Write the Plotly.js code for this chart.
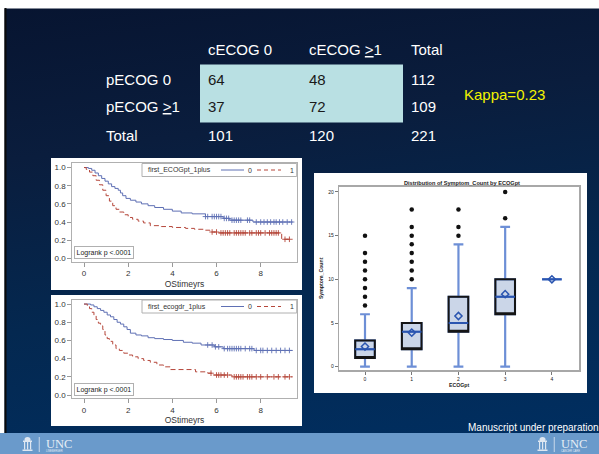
<!DOCTYPE html>
<html><head><meta charset="utf-8">
<script src="https://cdn.plot.ly/plotly-3.0.1.min.js"></script>
<style>
html,body{margin:0;padding:0;background:#fff;overflow:hidden;}
#chart{width:599px;height:454px;background:linear-gradient(172deg,#071430 0%,#0a1d3d 30%,#042850 62%,#002f62 100%);}
</style></head><body><div id="chart"></div>
<script>
// ---------- table data ----------
const colHeads = ['cECOG 0', 'cECOG <u>&gt;</u>1', 'Total'];
const rowHeads = ['pECOG 0', 'pECOG <u>&gt;</u>1', 'Total'];
const rowA = [64, 48, 112];
const rowB = [37, 72, 109];
const rowTotal = [101, 120, 221];
const kappaText = 'Kappa=0.23';

// ---------- KM panel 1 (first_ECOGpt_1plus) ----------
const km1Group = 'first_ECOGpt_1plus';
const km1T0 = [0, 0.2, 0.35, 0.5, 0.65, 0.8, 0.95, 1.1, 1.25, 1.4, 1.55, 1.65, 1.75, 1.9, 2.1, 2.35, 2.6, 2.9, 3.2, 3.6, 4.0, 4.4, 4.9, 5.5, 6.3, 6.6, 7.65, 9.45];
const km1S0 = [1.0, 0.99, 0.97, 0.94, 0.91, 0.88, 0.85, 0.82, 0.79, 0.77, 0.75, 0.72, 0.69, 0.66, 0.64, 0.62, 0.60, 0.58, 0.56, 0.54, 0.52, 0.50, 0.49, 0.46, 0.44, 0.42, 0.40, 0.40];
const km1T1 = [0, 0.1, 0.25, 0.4, 0.55, 0.7, 0.85, 1.0, 1.15, 1.3, 1.45, 1.6, 1.8, 2.0, 2.2, 2.45, 2.7, 3.0, 3.5, 4.0, 4.6, 5.0, 5.4, 5.7, 6.1, 8.95, 9.45];
const km1S1 = [1.0, 0.98, 0.95, 0.91, 0.86, 0.81, 0.75, 0.69, 0.63, 0.58, 0.54, 0.51, 0.48, 0.45, 0.43, 0.41, 0.39, 0.36, 0.35, 0.34, 0.33, 0.32, 0.31, 0.29, 0.28, 0.21, 0.21];
const km1C0T = [5.5, 5.6, 5.8, 5.9, 6.0, 6.1, 6.2, 6.35, 6.45, 6.55, 6.7, 6.8, 6.9, 7.0, 7.1, 7.4, 7.5, 7.8, 8.0, 8.15, 8.3, 8.45, 8.6, 8.7, 8.85, 9.0, 9.2, 9.4];
const km1C0S = [0.46, 0.46, 0.46, 0.46, 0.46, 0.46, 0.46, 0.44, 0.44, 0.44, 0.42, 0.42, 0.42, 0.42, 0.42, 0.42, 0.42, 0.40, 0.40, 0.40, 0.40, 0.40, 0.40, 0.40, 0.40, 0.40, 0.40, 0.40];
const km1C1T = [5.8, 6.0, 6.2, 6.3, 6.4, 6.5, 6.6, 6.8, 6.9, 7.0, 7.1, 7.2, 7.3, 7.5, 7.6, 7.8, 7.9, 8.0, 8.2, 8.4, 8.5, 8.6, 8.7, 8.8, 9.1, 9.3];
const km1C1S = [0.29, 0.29, 0.28, 0.28, 0.28, 0.28, 0.28, 0.28, 0.28, 0.28, 0.28, 0.28, 0.28, 0.28, 0.28, 0.28, 0.28, 0.28, 0.28, 0.28, 0.28, 0.28, 0.28, 0.28, 0.21, 0.21];

// ---------- KM panel 2 (first_ecogdr_1plus) ----------
const km2Group = 'first_ecogdr_1plus';
const km2T0 = [0, 0.3, 0.45, 0.6, 0.75, 0.9, 1.05, 1.2, 1.35, 1.5, 1.65, 1.8, 1.95, 2.1, 2.35, 2.6, 2.9, 3.2, 3.6, 4.0, 4.5, 4.9, 5.3, 5.9, 6.3, 7.7, 9.45];
const km2S0 = [1.0, 0.99, 0.97, 0.95, 0.93, 0.91, 0.88, 0.86, 0.83, 0.80, 0.78, 0.75, 0.72, 0.68, 0.66, 0.65, 0.63, 0.62, 0.61, 0.60, 0.58, 0.57, 0.55, 0.53, 0.51, 0.49, 0.49];
const km2T1 = [0, 0.15, 0.25, 0.35, 0.45, 0.55, 0.65, 0.75, 0.85, 0.95, 1.05, 1.15, 1.3, 1.45, 1.6, 1.8, 2.0, 2.2, 2.45, 2.7, 3.0, 3.3, 3.6, 3.9, 5.05, 5.6, 5.85, 6.7, 9.45];
const km2S1 = [1.0, 0.98, 0.95, 0.91, 0.87, 0.83, 0.79, 0.76, 0.72, 0.66, 0.62, 0.59, 0.55, 0.51, 0.49, 0.46, 0.44, 0.42, 0.40, 0.38, 0.36, 0.33, 0.31, 0.28, 0.255, 0.24, 0.22, 0.20, 0.20];
const km2C0T = [5.6, 5.8, 5.95, 6.1, 6.35, 6.5, 6.6, 6.7, 6.8, 6.9, 7.0, 7.1, 7.3, 7.5, 7.6, 7.8, 8.0, 8.1, 8.3, 8.5, 8.7, 8.9, 9.1, 9.3];
const km2C0S = [0.55, 0.55, 0.53, 0.53, 0.51, 0.51, 0.51, 0.51, 0.51, 0.51, 0.51, 0.51, 0.51, 0.51, 0.51, 0.49, 0.49, 0.49, 0.49, 0.49, 0.49, 0.49, 0.49, 0.49];
const km2C1T = [5.75, 6.0, 6.1, 6.2, 6.35, 6.5, 6.8, 6.9, 7.0, 7.1, 7.2, 7.4, 7.5, 7.6, 7.8, 8.0, 8.3, 8.6, 8.8, 9.1, 9.3];
const km2C1S = [0.24, 0.22, 0.22, 0.22, 0.22, 0.22, 0.20, 0.20, 0.20, 0.20, 0.20, 0.20, 0.20, 0.20, 0.20, 0.20, 0.20, 0.20, 0.20, 0.20, 0.20];
const kmTicksX = [0, 2, 4, 6, 8];
const kmTicksY = [0, 0.2, 0.4, 0.6, 0.8, 1.0];
const kmLevels = ['0', '1'];

// ---------- Box plot: Symptom_Count by ECOGpt ----------
const bpCat = [0, 1, 2, 3, 4];
const bpLow = [0, 0, 0, 0, 10];
const bpQ1 = [1, 2, 4, 6, 10];
const bpMed = [2, 4, 5, 8, 10];
const bpQ3 = [3, 5, 8, 10, 10];
const bpHigh = [6, 9, 14, 16, 10];
const bpMean = [2.3, 3.9, 5.8, 8.3, 10];
const outX = [0, 0, 0, 0, 0, 0, 0, 0, 1, 1, 1, 1, 1, 1, 1, 1, 2, 2, 2, 3, 3];
const outY = [7, 8, 9, 10, 11, 12, 13, 15, 10, 11, 12, 13, 14, 15, 16, 18, 15, 16, 18, 17, 20];
const bpTicksY = [0, 5, 10, 15, 20];

// ---------- helpers ----------
const W = 599, H = 454;
const px = v => v / W;
const py = v => 1 - v / H;
const FONT = 'Liberation Sans, Arial, sans-serif';
const blueC = '#5f70b4', redC = '#b5473b';

function rect(x0, y0, x1, y1, fill, lineColor, lw) {
  return {type: 'rect', xref: 'paper', yref: 'paper', x0: px(x0), x1: px(x1), y0: py(y1), y1: py(y0),
    fillcolor: fill, line: {color: lineColor || fill, width: lw || 0}, layer: 'below'};
}
function seg(x0, y0, x1, y1, color, width, dash) {
  return {type: 'line', xref: 'paper', yref: 'paper', x0: px(x0), x1: px(x1), y0: py(y0), y1: py(y1),
    line: {color: color, width: width, dash: dash || 'solid'}, layer: 'above'};
}
function txt(x, y, text, size, color, anchor, extra) {
  return Object.assign({xref: 'paper', yref: 'paper', x: px(x), y: py(y), text: text, showarrow: false,
    xanchor: anchor || 'left', yanchor: 'middle', font: {family: FONT, size: size, color: color}}, extra || {});
}

const traces = [];
function kmTraces(T0, S0, T1, S1, C0T, C0S, C1T, C1S, xa, ya) {
  traces.push({type: 'scatter', mode: 'lines', x: T0, y: S0, name: kmLevels[0], xaxis: xa, yaxis: ya, showlegend: false,
    line: {shape: 'hv', color: blueC, width: 1}, hoverinfo: 'skip'});
  traces.push({type: 'scatter', mode: 'lines', x: T1, y: S1, name: kmLevels[1], xaxis: xa, yaxis: ya, showlegend: false,
    line: {shape: 'hv', color: redC, width: 1, dash: '5px,3px'}, hoverinfo: 'skip'});
  traces.push({type: 'scatter', mode: 'markers', x: C0T, y: C0S, showlegend: false, xaxis: xa, yaxis: ya,
    marker: {symbol: 'cross-thin-open', size: 4, color: blueC, line: {color: blueC, width: 0.9}}, hoverinfo: 'skip'});
  traces.push({type: 'scatter', mode: 'markers', x: C1T, y: C1S, showlegend: false, xaxis: xa, yaxis: ya,
    marker: {symbol: 'cross-thin-open', size: 4, color: redC, line: {color: redC, width: 0.9}}, hoverinfo: 'skip'});
}
kmTraces(km1T0, km1S0, km1T1, km1S1, km1C0T, km1C0S, km1C1T, km1C1S, 'x', 'y');
kmTraces(km2T0, km2S0, km2T1, km2S1, km2C0T, km2C0S, km2C1T, km2C1S, 'x2', 'y2');

// box plot: whiskers (light blue), box outline (black), median (dark blue)
traces.push({type: 'box', x: bpCat, q1: bpQ1, median: bpMed, q3: bpQ3, lowerfence: bpLow, upperfence: bpHigh,
  xaxis: 'x3', yaxis: 'y3', fillcolor: '#cbd6e8', line: {color: '#6d8fd6', width: 2.2}, whiskerwidth: 0.5,
  width: 0.42, boxpoints: false, showlegend: false, hoverinfo: 'skip'});
const n4 = 4;
traces.push({type: 'box', x: bpCat.slice(0, n4), q1: bpQ1.slice(0, n4), median: bpQ1.slice(0, n4), q3: bpQ3.slice(0, n4),
  lowerfence: bpQ1.slice(0, n4), upperfence: bpQ3.slice(0, n4), xaxis: 'x3', yaxis: 'y3',
  fillcolor: 'rgba(0,0,0,0)', line: {color: '#151515', width: 2}, whiskerwidth: 0,
  width: 0.42, boxpoints: false, showlegend: false, hoverinfo: 'skip'});
traces.push({type: 'box', x: bpCat, q1: bpMed, median: bpMed, q3: bpMed, lowerfence: bpMed, upperfence: bpMed,
  xaxis: 'x3', yaxis: 'y3', fillcolor: 'rgba(0,0,0,0)', line: {color: '#2a55b0', width: 2}, whiskerwidth: 0,
  width: 0.42, boxpoints: false, showlegend: false, hoverinfo: 'skip'});
traces.push({type: 'scatter', mode: 'markers', x: outX, y: outY, xaxis: 'x3', yaxis: 'y3', showlegend: false,
  marker: {symbol: 'circle', size: 4.5, color: '#111'}, hoverinfo: 'skip'});
traces.push({type: 'scatter', mode: 'markers', x: bpCat, y: bpMean, xaxis: 'x3', yaxis: 'y3', showlegend: false,
  marker: {symbol: 'diamond-open', size: 5.5, color: '#2a55b0', line: {color: '#2a55b0', width: 1.5}}, hoverinfo: 'skip'});

// axes
const kmX = {range: [-0.53, 9.63], tickvals: kmTicksX, ticks: 'outside', ticklen: 4, tickcolor: '#999',
  showline: true, mirror: true, linecolor: '#b0b0b0', linewidth: 1, showgrid: false, zeroline: false,
  tickfont: {family: FONT, size: 8, color: '#333'}, domain: [px(72.3), px(296.7)],
  title: {text: 'OStimeyrs', font: {family: FONT, size: 8.5, color: '#333'}, standoff: 3}};
const kmY = {range: [-0.037, 1.05], tickvals: kmTicksY, tickformat: '.1f', ticks: 'outside', ticklen: 4, tickcolor: '#999',
  showline: true, mirror: true, linecolor: '#b0b0b0', linewidth: 1, showgrid: false, zeroline: false,
  tickfont: {family: FONT, size: 8, color: '#333'}};

const shapes = [
  rect(0, 0, 599, 8.5, '#ffffff'),
  rect(0, 8, 4.5, 433, '#ffffff'),
  rect(4.5, 8, 6.5, 433, '#0a0a0a'),
  rect(0, 433, 599, 454, '#6a9acb'),
  rect(200, 64.5, 403, 122.5, '#b9e0e3'),
  rect(51, 158, 302, 290, '#ffffff'),
  rect(51, 295, 302, 426, '#ffffff'),
  rect(314, 173, 587, 393, '#ffffff'),
  // UNC logo marks (left and right)
  rect(23, 440.5, 32, 442, '#dfe7f1'), rect(24, 442, 25.2, 449.5, '#dfe7f1'), rect(27, 442, 28.2, 449.5, '#dfe7f1'),
  rect(30, 442, 31.2, 449.5, '#dfe7f1'), rect(22.5, 449.5, 32.5, 451, '#dfe7f1'), rect(38.8, 437, 39.6, 452, '#dfe7f1'),
  rect(538, 440.5, 547, 442, '#dfe7f1'), rect(539, 442, 540.2, 449.5, '#dfe7f1'), rect(542, 442, 543.2, 449.5, '#dfe7f1'),
  rect(545, 442, 546.2, 449.5, '#dfe7f1'), rect(537.5, 449.5, 547.5, 451, '#dfe7f1'), rect(553.8, 437, 554.6, 452, '#dfe7f1')
];
shapes.push({type: 'circle', xref: 'paper', yref: 'paper', x0: px(24.5), x1: px(30.5), y0: py(442), y1: py(437),
  fillcolor: '#dfe7f1', line: {width: 0}, layer: 'below'});
shapes.push({type: 'circle', xref: 'paper', yref: 'paper', x0: px(539.5), x1: px(545.5), y0: py(442), y1: py(437),
  fillcolor: '#dfe7f1', line: {width: 0}, layer: 'below'});

const annotations = [];
// KM legends (drawn as boxes with sample lines)
[[163.5, km1Group], [300, km2Group]].forEach(([top, label]) => {
  const r = rect(142, top, 296.7, top + 13, '#ffffff', '#b0b0b0', 1);
  r.layer = 'above';
  shapes.push(r);
  const cy = top + 6.5;
  annotations.push(txt(146, cy, label, 7, '#333'));
  shapes.push(seg(221, cy, 244, cy, blueC, 1));
  annotations.push(txt(246, cy, kmLevels[0], 7, '#333'));
  shapes.push(seg(257, cy, 281, cy, redC, 1, '4px,3px'));
  annotations.push(txt(288, cy, kmLevels[1], 7, '#333'));
});

const colX = [206, 307, 409];
colHeads.forEach((h, i) => annotations.push(txt(colX[i], 50, h, 15, '#ffffff')));
const rowY = [79, 107, 135];
rowHeads.forEach((h, i) => annotations.push(txt(104, rowY[i], h, 15, '#ffffff')));
[rowA, rowB, rowTotal].forEach((row, r) => row.forEach((v, c) => {
  const inside = r < 2 && c < 2;
  annotations.push(txt(colX[c], rowY[r], String(v), 15, inside ? '#1a1a1a' : '#ffffff'));
}));
annotations.push(txt(462, 95, kappaText, 15, '#f2f200'));
// Logrank boxes
[259, 396].forEach(yb => annotations.push({xref: 'paper', yref: 'paper', x: px(73.5), y: py(yb), xanchor: 'left', yanchor: 'bottom',
  text: 'Logrank p &lt;.0001', showarrow: false, font: {family: FONT, size: 7, color: '#222'},
  bgcolor: 'white', bordercolor: '#b0b0b0', borderwidth: 1, borderpad: 1.5}));
// box title
annotations.push(txt(461.7, 182.7, '<b>Distribution of Symptom_Count by ECOGpt</b>', 5.6, '#222', 'center'));
// footer text
annotations.push(txt(601, 427, 'Manuscript under preparation', 10, '#ffffff', 'right'));
annotations.push(txt(43.5, 443.5, 'UNC', 12, '#e6edf5', 'left', {font: {family: 'Liberation Serif, serif', size: 12.5, color: '#e6edf5'}}));
annotations.push(txt(44, 450.5, 'LINEBERGER', 2.6, '#e6edf5'));
annotations.push(txt(558.5, 443.5, 'UNC', 12, '#e6edf5', 'left', {font: {family: 'Liberation Serif, serif', size: 12.5, color: '#e6edf5'}}));
annotations.push(txt(559, 450.5, 'CANCER CARE', 2.6, '#e6edf5'));

const layout = {
  width: W, height: H, margin: {l: 0, r: 0, t: 0, b: 0},
  paper_bgcolor: 'rgba(0,0,0,0)', plot_bgcolor: 'white', showlegend: false, boxmode: 'overlay',
  xaxis: Object.assign({}, kmX, {anchor: 'y'}),
  yaxis: Object.assign({}, kmY, {anchor: 'x', domain: [py(261.7), py(163)]}),
  xaxis2: Object.assign({}, kmX, {anchor: 'y2'}),
  yaxis2: Object.assign({}, kmY, {anchor: 'x2', domain: [py(398.4), py(299.5)]}),
  xaxis3: {anchor: 'y3', domain: [px(339.3), px(579)], range: [-0.55, 4.58], tickvals: bpCat, ticks: 'outside',
    ticklen: 3, tickcolor: '#777', showline: true, mirror: true, linecolor: '#a8a8a8', linewidth: 1.5,
    showgrid: false, zeroline: false, tickfont: {family: FONT, size: 5, color: '#222'},
    title: {text: '<b>ECOGpt</b>', font: {family: FONT, size: 5.2, color: '#222'}, standoff: 3}},
  yaxis3: {anchor: 'x3', domain: [py(370), py(186.7)], range: [-0.38, 20.6], tickvals: bpTicksY, ticks: 'outside',
    ticklen: 3, tickcolor: '#777', showline: true, mirror: true, linecolor: '#a8a8a8', linewidth: 1.5,
    showgrid: false, zeroline: false, tickfont: {family: FONT, size: 5, color: '#222'},
    title: {text: '<b>Symptom_Count</b>', font: {family: FONT, size: 5.2, color: '#222'}, standoff: 4}},
  shapes: shapes, annotations: annotations
};
Plotly.newPlot('chart', traces, layout, {staticPlot: true, displayModeBar: false});
</script></body></html>
